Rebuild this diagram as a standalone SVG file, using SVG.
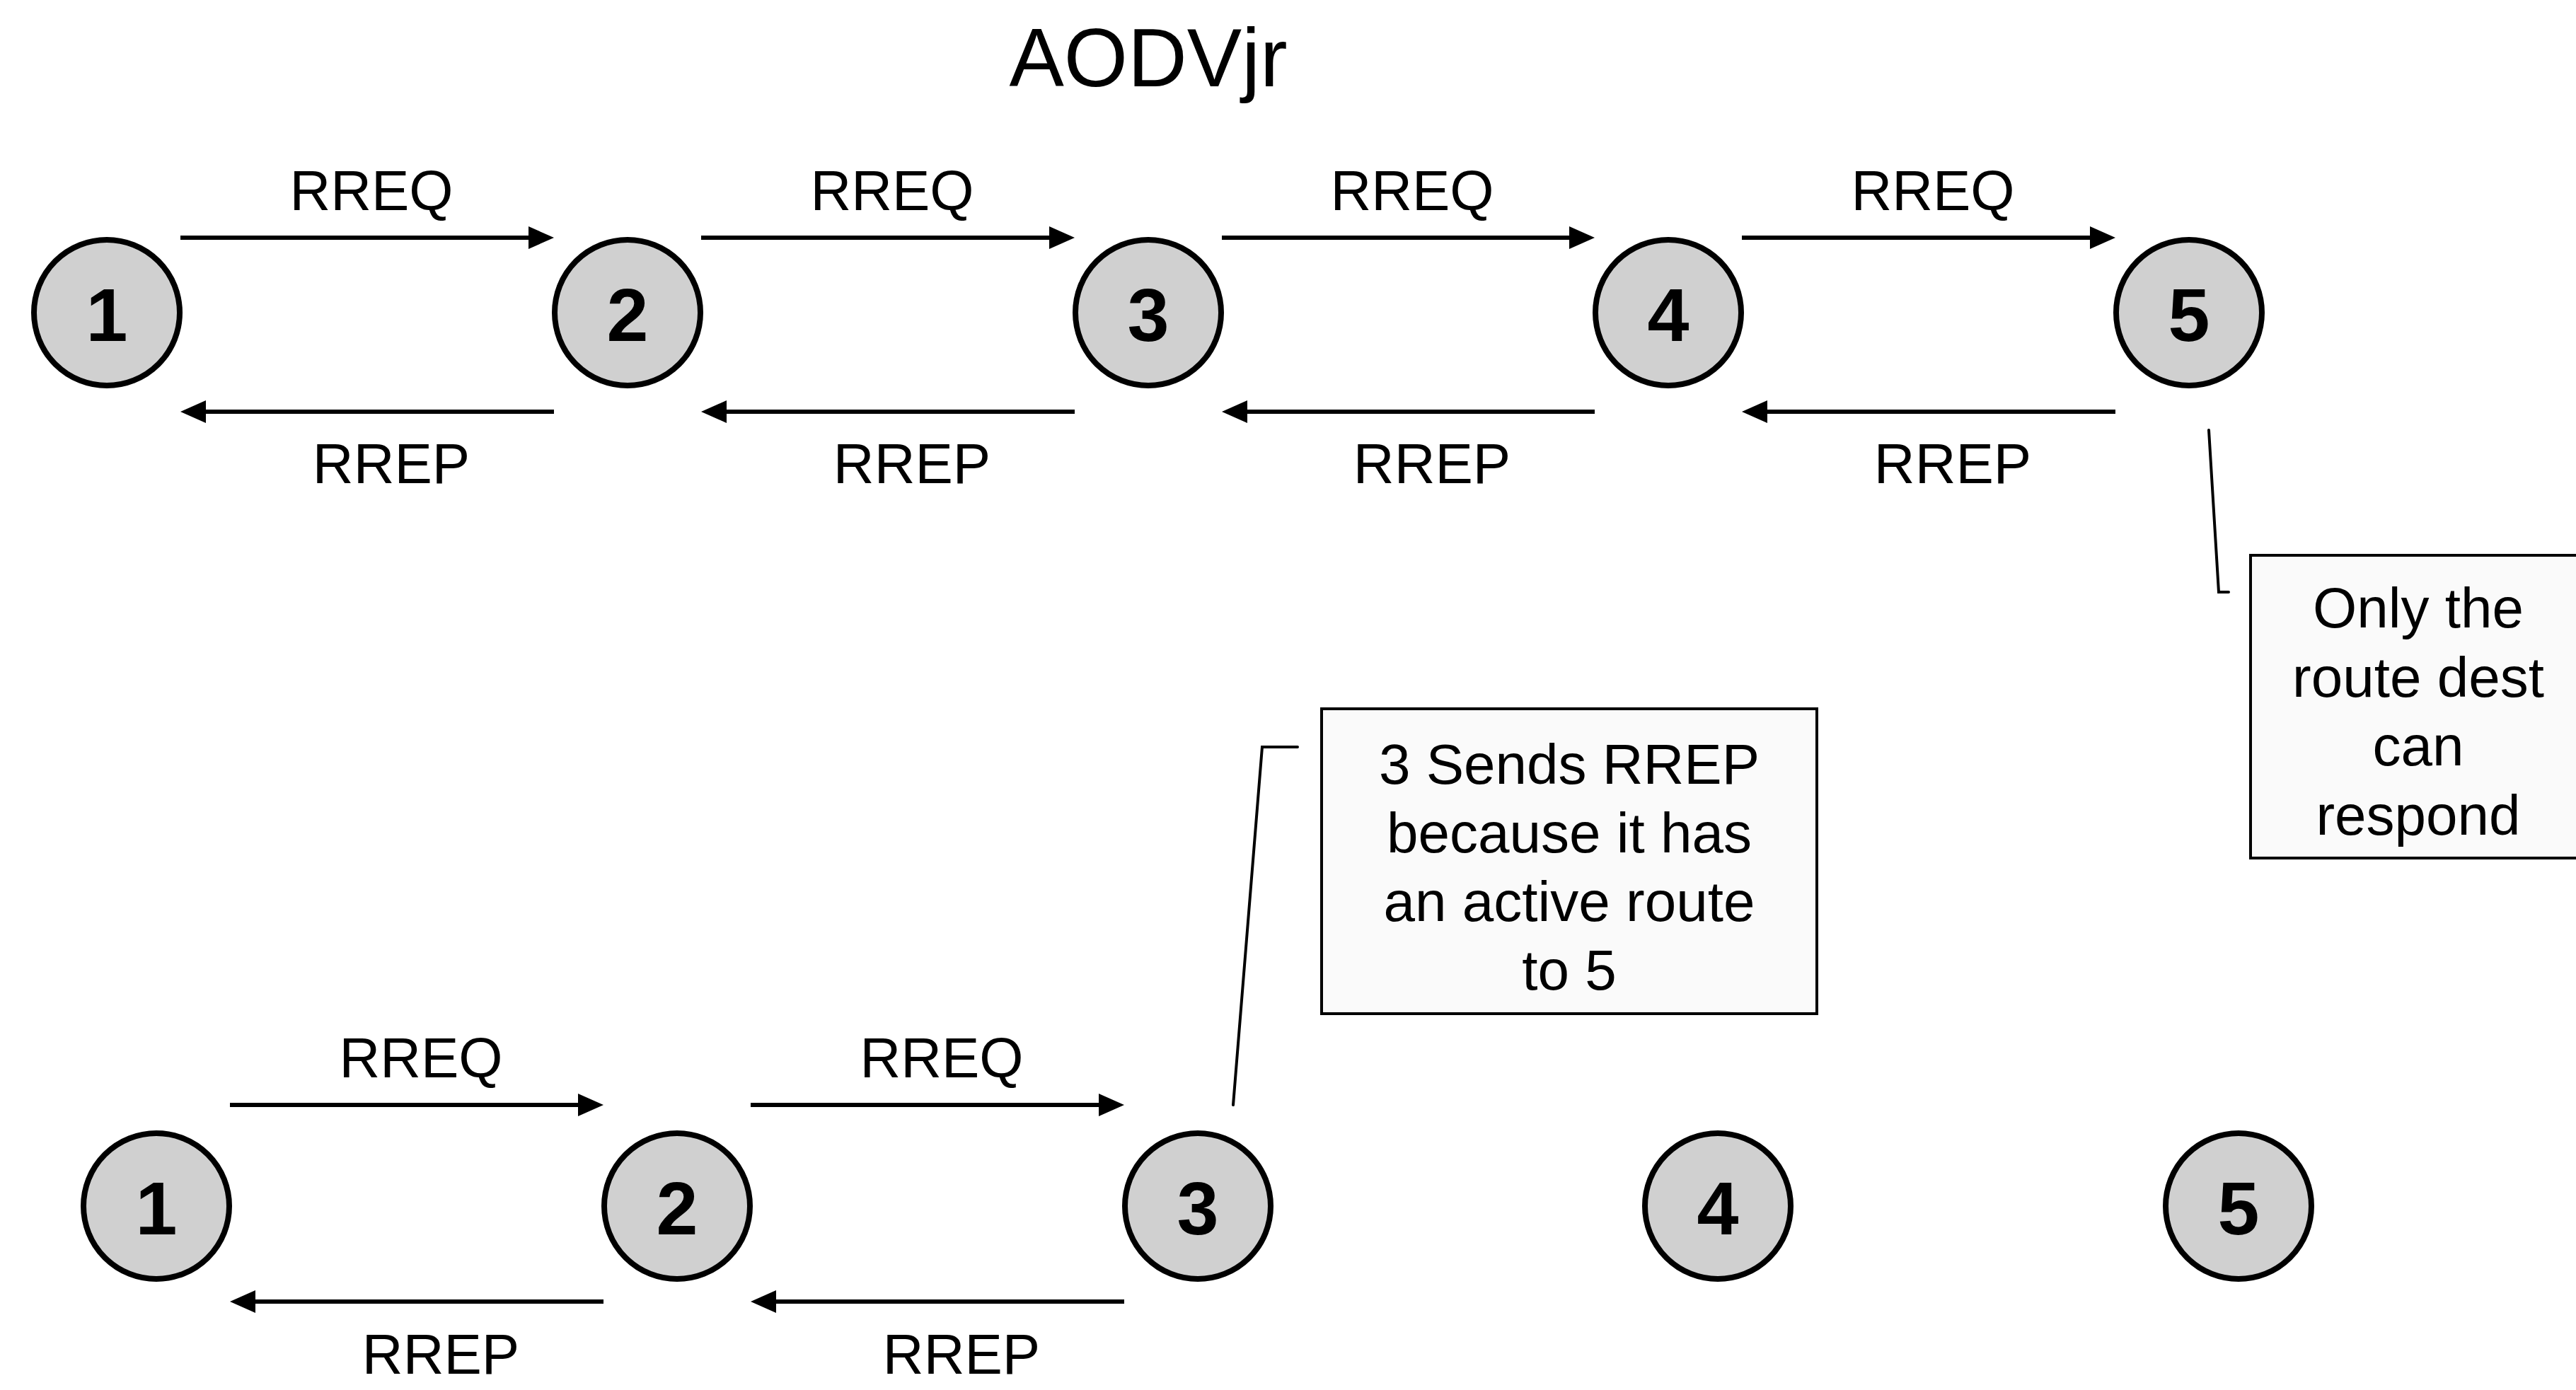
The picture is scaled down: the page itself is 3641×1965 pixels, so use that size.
<svg xmlns="http://www.w3.org/2000/svg" width="3641" height="1965" viewBox="0 0 3641 1965">
<style>
.node{fill:#d0d0d0;stroke:#000;stroke-width:8}
.num{font-family:"Liberation Sans",Arial,sans-serif;font-weight:bold;font-size:106px;text-anchor:middle;fill:#000}
.lbl{font-family:"Liberation Sans",Arial,sans-serif;font-size:80px;text-anchor:middle;fill:#000}
.title{font-family:"Liberation Sans",Arial,sans-serif;font-size:116px;text-anchor:middle;fill:#000}
.arr{stroke:#000;stroke-width:6;fill:none;marker-end:url(#ah)}
.lead{stroke:#000;stroke-width:4;fill:none;stroke-linecap:round;stroke-linejoin:miter}
.box{fill:#fafafa;stroke:#000;stroke-width:4}
</style>
<defs>
<marker id="ah" markerUnits="userSpaceOnUse" markerWidth="40" markerHeight="34" viewBox="0 0 40 34" refX="1" refY="17" orient="auto">
<path d="M0,1 L36,17 L0,33 z" fill="#000"/>
</marker>
</defs>
<rect width="3641" height="1965" fill="#fff"/>
<text class="title" x="1623" y="122">AODVjr</text>

<g id="connectors">
<path class="arr" d="M255,336 H748"/>
<path class="arr" d="M991,336 H1484"/>
<path class="arr" d="M1727,336 H2219"/>
<path class="arr" d="M2462,336 H2955"/>
<path class="arr" d="M783,582 H290"/>
<path class="arr" d="M1519,582 H1026"/>
<path class="arr" d="M2254,582 H1762"/>
<path class="arr" d="M2990,582 H2497"/>
<path class="arr" d="M325,1562 H818"/>
<path class="arr" d="M1061,1562 H1554"/>
<path class="arr" d="M853,1840 H360"/>
<path class="arr" d="M1589,1840 H1096"/>
<path class="lead" d="M3122,608 L3136,837 H3150"/>
<path class="lead" d="M1743,1562 L1784,1056 H1834"/>
</g>

<g id="labels">
<text class="lbl" x="525" y="297">RREQ</text>
<text class="lbl" x="1261" y="297">RREQ</text>
<text class="lbl" x="1996" y="297">RREQ</text>
<text class="lbl" x="2732" y="297">RREQ</text>
<text class="lbl" x="553" y="683">RREP</text>
<text class="lbl" x="1289" y="683">RREP</text>
<text class="lbl" x="2024" y="683">RREP</text>
<text class="lbl" x="2760" y="683">RREP</text>
<text class="lbl" x="595" y="1523">RREQ</text>
<text class="lbl" x="1331" y="1523">RREQ</text>
<text class="lbl" x="623" y="1942">RREP</text>
<text class="lbl" x="1359" y="1942">RREP</text>
</g>

<g id="t1"><circle class="node" cx="151" cy="442" r="103"/><text class="num" x="151" y="482">1</text></g>
<g id="t2"><circle class="node" cx="887" cy="442" r="103"/><text class="num" x="887" y="482">2</text></g>
<g id="t3"><circle class="node" cx="1623" cy="442" r="103"/><text class="num" x="1623" y="482">3</text></g>
<g id="t4"><circle class="node" cx="2358" cy="442" r="103"/><text class="num" x="2358" y="482">4</text></g>
<g id="t5"><circle class="node" cx="3094" cy="442" r="103"/><text class="num" x="3094" y="482">5</text></g>

<g id="b1"><circle class="node" cx="221" cy="1705" r="103"/><text class="num" x="221" y="1745">1</text></g>
<g id="b2"><circle class="node" cx="957" cy="1705" r="103"/><text class="num" x="957" y="1745">2</text></g>
<g id="b3"><circle class="node" cx="1693" cy="1705" r="103"/><text class="num" x="1693" y="1745">3</text></g>
<g id="b4"><circle class="node" cx="2428" cy="1705" r="103"/><text class="num" x="2428" y="1745">4</text></g>
<g id="b5"><circle class="node" cx="3164" cy="1705" r="103"/><text class="num" x="3164" y="1745">5</text></g>

<g id="note1">
<rect class="box" x="3181" y="785" width="500" height="428"/>
<text class="lbl" x="3418" y="887">Only the</text>
<text class="lbl" x="3418" y="985">route dest</text>
<text class="lbl" x="3418" y="1082">can</text>
<text class="lbl" x="3418" y="1180">respond</text>
</g>

<g id="note2">
<rect class="box" x="1868" y="1002" width="700" height="431"/>
<text class="lbl" x="2218" y="1108">3 Sends RREP</text>
<text class="lbl" x="2218" y="1205">because it has</text>
<text class="lbl" x="2218" y="1302">an active route</text>
<text class="lbl" x="2218" y="1399">to 5</text>
</g>
</svg>
